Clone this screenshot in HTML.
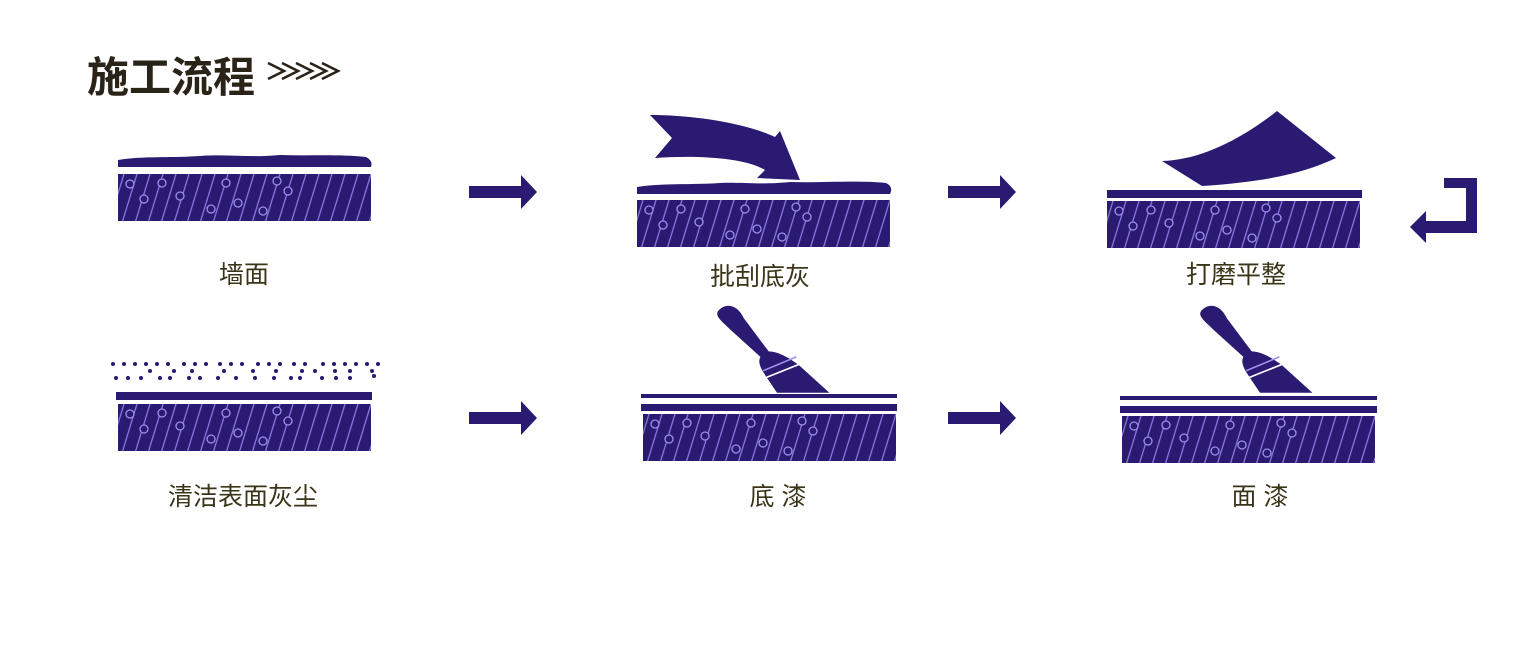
<!DOCTYPE html>
<html><head><meta charset="utf-8"><style>
html,body{margin:0;padding:0;background:#fff;width:1520px;height:652px;overflow:hidden}
svg{display:block}
</style></head><body>
<svg width="1520" height="652" viewBox="0 0 1520 652" xmlns="http://www.w3.org/2000/svg">
<defs>
<pattern id="h" patternUnits="userSpaceOnUse" width="13" height="50" patternTransform="skewX(-17)">
<rect width="13" height="50" fill="#2a1a72"/>
<line x1="6" y1="0" x2="6" y2="50" stroke="#8d7fe0" stroke-width="1.3"/>
</pattern>
<g id="blk">
<rect x="0" y="0" width="253" height="47" fill="url(#h)"/>
<g fill="#2a1a72" stroke="#9d8ff0" stroke-width="1.3">
<circle cx="12" cy="10" r="4"/><circle cx="26" cy="25" r="4"/><circle cx="44" cy="9" r="4"/>
<circle cx="62" cy="22" r="4"/><circle cx="108" cy="9" r="4"/><circle cx="93" cy="35" r="4"/>
<circle cx="120" cy="29" r="4"/><circle cx="145" cy="37" r="4"/><circle cx="159" cy="7" r="4"/>
<circle cx="170" cy="17" r="4"/>
</g>
</g>
<path id="arr" d="M0 11 H52 V0 L68 17 L52 34 V23 H0 Z" fill="#2a1a72"/>
<g id="brush" fill="#2a1a72">
<path d="M0 0 C6 -6 14 -3 18 6 L36 30 C42 30 50 34 58 40 L80 60 L42 60 L34 48 C30 42 28 38 30 34 L8 14 C2 8 -4 4 0 0 Z"/>
<line x1="32" y1="44" x2="56" y2="34" stroke="#9d8ff0" stroke-width="1.2"/>
<line x1="34" y1="49" x2="59" y2="39" stroke="#fff" stroke-width="1.2"/>
</g>
</defs>

<text x="87" y="92" font-family="Liberation Sans, 'Noto Sans CJK SC', sans-serif" font-size="42" font-weight="bold" fill="#2a2418">施工流程</text>
<g fill="none" stroke="#2a2418" stroke-width="2.6" stroke-linejoin="miter">
<polyline points="268,63 284,71 268,79"/>
<polyline points="282,63 298,71 282,79"/>
<polyline points="296,63 312,71 296,79"/>
<polyline points="310,63 326,71 310,79"/>
<polyline points="322,63 338,71 322,79"/>
</g>

<!-- row 1 -->
<path d="M118 167 V160 C140 156 170 158 200 156 C230 154 250 158 280 155 C310 156 340 154 366 157 C372 160 372 164 371 167 Z" fill="#2a1a72"/>
<use href="#blk" x="118" y="174"/>

<path d="M637 194 V187 C660 183 690 185 720 183 C740 182 760 185 790 182 C820 183 860 180 886 183 C892 186 892 190 890 194 Z" fill="#2a1a72"/>
<path d="M650 115 C700 115 750 125 775 137 L780 131 L800 180 L757 178 L765 170 C745 158 700 155 655 158 L672 138 Z" fill="#2a1a72"/>
<use href="#blk" x="637" y="200"/>

<path d="M1162 161 C1200 160 1240 140 1277 111 L1336 158 C1300 175 1260 182 1202 186 Z" fill="#2a1a72"/>
<rect x="1107" y="190" width="255" height="8" fill="#2a1a72"/>
<use href="#blk" x="1107" y="201"/>

<use href="#arr" x="469" y="175"/>
<use href="#arr" x="948" y="175"/>
<path d="M1444 178 H1477 V233 H1426 V243 L1410 227 L1426 211 V221 H1466 V188 H1444 Z" fill="#2a1a72"/>

<!-- row 2 -->
<g fill="#2a1a72">
<circle cx="113" cy="364" r="2"/><circle cx="124" cy="364" r="2"/><circle cx="135" cy="364" r="2"/><circle cx="146" cy="364" r="2"/><circle cx="157" cy="364" r="2"/><circle cx="168" cy="364" r="2"/><circle cx="184" cy="364" r="2"/><circle cx="195" cy="364" r="2"/><circle cx="206" cy="364" r="2"/><circle cx="220" cy="364" r="2"/><circle cx="231" cy="364" r="2"/><circle cx="242" cy="364" r="2"/><circle cx="258" cy="364" r="2"/><circle cx="269" cy="364" r="2"/><circle cx="280" cy="364" r="2"/><circle cx="294" cy="364" r="2"/><circle cx="305" cy="364" r="2"/><circle cx="323" cy="364" r="2"/><circle cx="334" cy="364" r="2"/><circle cx="345" cy="364" r="2"/><circle cx="356" cy="364" r="2"/><circle cx="367" cy="364" r="2"/><circle cx="378" cy="364" r="2"/>
<circle cx="150" cy="371" r="2"/><circle cx="174" cy="371" r="2"/><circle cx="192" cy="371" r="2"/><circle cx="224" cy="371" r="2"/><circle cx="253" cy="371" r="2"/><circle cx="276" cy="371" r="2"/><circle cx="302" cy="371" r="2"/><circle cx="315" cy="371" r="2"/><circle cx="335" cy="371" r="2"/><circle cx="350" cy="371" r="2"/><circle cx="372" cy="371" r="2"/>
<circle cx="116" cy="378" r="2"/><circle cx="128" cy="378" r="2"/><circle cx="141" cy="378" r="2"/><circle cx="160" cy="378" r="2"/><circle cx="170" cy="378" r="2"/><circle cx="189" cy="378" r="2"/><circle cx="200" cy="378" r="2"/><circle cx="218" cy="378" r="2"/><circle cx="236" cy="378" r="2"/><circle cx="255" cy="378" r="2"/><circle cx="274" cy="378" r="2"/><circle cx="291" cy="378" r="2"/><circle cx="300" cy="378" r="2"/><circle cx="322" cy="378" r="2"/><circle cx="336" cy="378" r="2"/><circle cx="350" cy="378" r="2"/><circle cx="374" cy="376" r="2"/>
</g>
<rect x="116" y="392" width="256" height="8" fill="#2a1a72"/>
<use href="#blk" x="118" y="404"/>

<use href="#brush" transform="translate(719,310) scale(1.38)"/>
<rect x="641" y="394" width="256" height="4" fill="#2a1a72"/>
<rect x="641" y="404" width="256" height="7" fill="#2a1a72"/>
<use href="#blk" x="643" y="414"/>

<use href="#brush" transform="translate(1202,310) scale(1.38)"/>
<rect x="1120" y="396" width="257" height="4" fill="#2a1a72"/>
<rect x="1120" y="406" width="257" height="7" fill="#2a1a72"/>
<use href="#blk" x="1122" y="416"/>

<use href="#arr" x="469" y="401"/>
<use href="#arr" x="948" y="401"/>

<g font-family="Liberation Sans, 'Noto Sans CJK SC', sans-serif" font-size="25" fill="#3a3418" text-anchor="middle">
<text x="244" y="283">墙面</text>
<text x="760" y="285">批刮底灰</text>
<text x="1236" y="283">打磨平整</text>
<text x="243" y="505">清洁表面灰尘</text>
<text x="778" y="505">底 漆</text>
<text x="1260" y="505">面 漆</text>
</g>
</svg>
</body></html>
